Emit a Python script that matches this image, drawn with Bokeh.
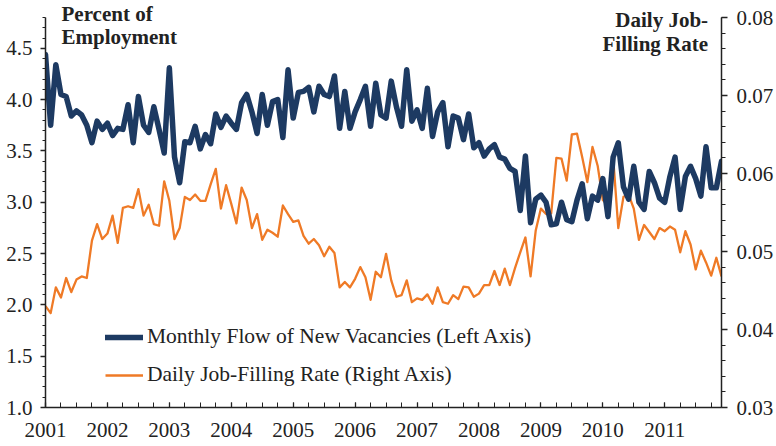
from bokeh.plotting import figure
from bokeh.models import (Range1d, LinearAxis, FixedTicker, NumeralTickFormatter,
                          Legend, LegendItem, Label, ColumnDataSource)
from bokeh.embed import file_html
from bokeh.resources import INLINE

# ---------------- data (monthly, Jan 2001 .. Dec 2011) ----------------
year_labels = ["2001", "2002", "2003", "2004", "2005", "2006",
               "2007", "2008", "2009", "2010", "2011"]

vacancy_flow = [  # percent of employment (left axis)
    4.44, 3.75, 4.34, 4.05, 4.03, 3.84, 3.89, 3.85, 3.75, 3.58, 3.79, 3.71,
    3.77, 3.65, 3.72, 3.71, 3.95, 3.58, 4.03, 3.75, 3.68, 3.93, 3.71, 3.48,
    4.31, 3.44, 3.19, 3.59, 3.58, 3.74, 3.52, 3.66, 3.57, 3.86, 3.73, 3.84,
    3.77, 3.71, 3.97, 4.05, 3.88, 3.67, 4.05, 3.75, 3.98, 4.00, 3.63, 4.29,
    3.82, 4.07, 4.08, 4.12, 3.88, 4.13, 4.05, 4.03, 4.23, 3.72, 4.08, 3.72,
    3.88, 4.00, 4.13, 3.74, 4.16, 3.85, 3.82, 4.18, 3.93, 3.74, 4.29, 3.79,
    3.90, 3.72, 4.11, 3.64, 3.88, 3.97, 3.54, 3.84, 3.82, 3.61, 3.86, 3.53,
    3.58, 3.45, 3.52, 3.56, 3.44, 3.42, 3.33, 3.30, 2.92, 3.45, 2.80, 3.03,
    3.07, 3.00, 2.78, 2.79, 3.00, 2.83, 2.81, 3.02, 3.18, 2.84, 3.06, 3.02,
    3.23, 2.86, 3.44, 3.58, 3.15, 3.03, 3.35, 3.00, 2.93, 3.30, 3.19, 3.04,
    3.00, 3.25, 3.44, 2.93, 3.25, 3.35, 3.23, 3.06, 3.54, 3.14, 3.14, 3.40,
]

job_filling_rate = [  # daily job-filling rate (right axis)
    0.0430, 0.0421, 0.0454, 0.0441, 0.0466, 0.0448, 0.0464, 0.0468, 0.0466, 0.0514, 0.0535, 0.0516,
    0.0523, 0.0546, 0.0511, 0.0556, 0.0558, 0.0556, 0.0580, 0.0546, 0.0560, 0.0535, 0.0533, 0.0590,
    0.0565, 0.0516, 0.0530, 0.0570, 0.0566, 0.0573, 0.0565, 0.0565, 0.0586, 0.0606, 0.0555, 0.0585,
    0.0561, 0.0536, 0.0582, 0.0566, 0.0530, 0.0548, 0.0515, 0.0528, 0.0524, 0.0519, 0.0559, 0.0548,
    0.0538, 0.0540, 0.0520, 0.0510, 0.0516, 0.0508, 0.0494, 0.0506, 0.0498, 0.0454, 0.0461, 0.0454,
    0.0465, 0.0480, 0.0467, 0.0438, 0.0474, 0.0467, 0.0497, 0.0463, 0.0442, 0.0444, 0.0463, 0.0435,
    0.0440, 0.0438, 0.0445, 0.0433, 0.0454, 0.0435, 0.0433, 0.0444, 0.0439, 0.0455, 0.0454, 0.0442,
    0.0446, 0.0457, 0.0457, 0.0475, 0.0457, 0.0478, 0.0457, 0.0479, 0.0499, 0.0518, 0.0468, 0.0527,
    0.0555, 0.0548, 0.0549, 0.0620, 0.0619, 0.0591, 0.0650, 0.0651, 0.0621, 0.0589, 0.0634, 0.0610,
    0.0566, 0.0559, 0.0621, 0.0530, 0.0570, 0.0573, 0.0555, 0.0515, 0.0534, 0.0525, 0.0516, 0.0530,
    0.0526, 0.0532, 0.0528, 0.0499, 0.0526, 0.0509, 0.0477, 0.0501, 0.0486, 0.0469, 0.0492, 0.0468,
]

month_index = list(range(len(vacancy_flow)))
src = ColumnDataSource(dict(m=month_index, flow=vacancy_flow, rate=job_filling_rate))

NAVY = "#1d3a62"
ORANGE = "#ef7a26"
TXT = "#222222"
SERIF = "Liberation Serif"

# frame spans the full canvas height above the x axis; the drawn axes stop at 4.8 / 0.08
p = figure(width=776, height=446, output_backend="svg", toolbar_location=None,
           x_range=Range1d(0, 131), y_range=Range1d(1.0, 4.9657),
           min_border_left=45, min_border_right=54, min_border_top=0, min_border_bottom=39)
p.extra_y_ranges = {"rate": Range1d(0.03, 0.08218)}
p.outline_line_color = None
p.xgrid.visible = False
p.ygrid.visible = False
p.background_fill_color = "white"

r_rate = p.line("m", "rate", source=src, y_range_name="rate", color=ORANGE,
                line_width=2.3, line_join="round")
r_flow = p.line("m", "flow", source=src, color=NAVY, line_width=5.5,
                line_join="round", line_cap="round")

def style_axis(ax):
    ax.axis_line_color = TXT
    ax.axis_line_width = 1.5
    ax.major_tick_line_color = TXT
    ax.minor_tick_line_color = TXT
    ax.major_tick_line_width = 1.3
    ax.minor_tick_line_width = 1.0
    ax.major_label_text_font = SERIF
    ax.major_label_text_font_size = "21px"
    ax.major_label_text_color = TXT

# bottom axis
xa = p.xaxis[0]
style_axis(xa)
xa.ticker = FixedTicker(ticks=[12 * i for i in range(len(year_labels))],
                        minor_ticks=list(range(0, 131, 3)))
xa.major_label_overrides = {12 * i: lab for i, lab in enumerate(year_labels)}
xa.major_tick_in = 5
xa.major_tick_out = 0
xa.minor_tick_in = 5
xa.minor_tick_out = 0
xa.major_label_standoff = 15

# left axis
ya = p.yaxis[0]
style_axis(ya)
ya.bounds = (1.0, 4.8)
ya.ticker = FixedTicker(ticks=[1.0 + 0.5 * i for i in range(8)],
                        minor_ticks=[round(1.0 + 0.1 * i, 1) for i in range(39)])
ya.formatter = NumeralTickFormatter(format="0.0")
ya.major_tick_in = 0
ya.major_tick_out = 5
ya.minor_tick_in = 0
ya.minor_tick_out = 3
ya.major_label_standoff = 8

# right axis
ra = LinearAxis(y_range_name="rate")
style_axis(ra)
ra.bounds = (0.03, 0.08)
ra.ticker = FixedTicker(ticks=[round(0.03 + 0.01 * i, 2) for i in range(6)],
                        minor_ticks=[round(0.03 + 0.002 * i, 3) for i in range(26)])
ra.formatter = NumeralTickFormatter(format="0.00")
ra.major_tick_in = 0
ra.major_tick_out = 6
ra.minor_tick_in = 0
ra.minor_tick_out = 4
ra.major_label_standoff = 9
p.add_layout(ra, "right")

# titles
def title(text, x, y, align):
    p.add_layout(Label(x=x, y=y, text=text, text_align=align, text_baseline="alphabetic",
                       text_font=SERIF, text_font_style="bold", text_font_size="21px",
                       text_color=TXT))

title("Percent of", 3.1, 4.832, "left")
title("Employment", 3.1, 4.610, "left")
title("Daily Job-", 128.4, 4.780, "right")
title("Filling Rate", 128.4, 4.546, "right")

legend = Legend(items=[
    LegendItem(label="Monthly Flow of New Vacancies (Left Axis)", renderers=[r_flow]),
    LegendItem(label="Daily Job-Filling Rate (Right Axis)", renderers=[r_rate]),
], location=(60, 20))
legend.label_text_font = SERIF
legend.label_text_font_size = "21.5px"
legend.label_text_color = TXT
legend.glyph_width = 38
legend.glyph_height = 20
legend.label_height = 20
legend.label_standoff = 4
legend.spacing = 13
legend.padding = 0
legend.margin = 0
legend.border_line_color = None
legend.background_fill_alpha = 0
p.add_layout(legend, "center")

open("out.html", "w").write(file_html(p, INLINE))
